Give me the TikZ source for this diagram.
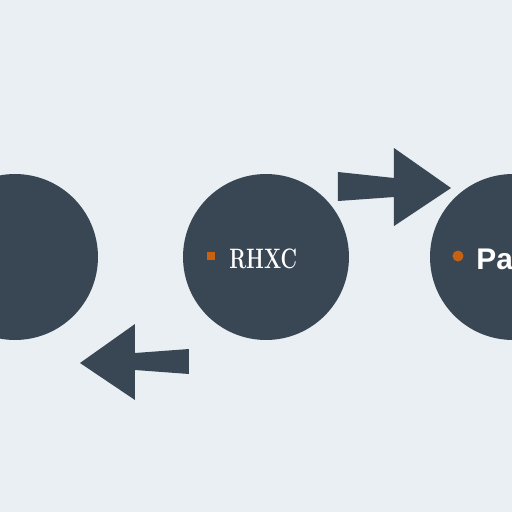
\documentclass[tikz,border=0pt]{standalone}
\usepackage{fontspec}
\newfontfamily\labelsans{Liberation Sans}
\usetikzlibrary{positioning}

\definecolor{bgpale}{RGB}{233,239,242}
\definecolor{slate}{RGB}{57,70,84}
\definecolor{rust}{RGB}{198,98,18}

\begin{document}
\begin{tikzpicture}[
    x=0.02cm, y=-0.02cm,
    ball/.style={circle, fill=slate, minimum size=3.32cm, inner sep=0pt},
    blockarr/.style={fill=slate},
    tag/.style={text=white, inner sep=0pt, anchor=west},
]
    \fill[bgpale] (0,0) rectangle (512,512);
    \useasboundingbox (0,0) rectangle (512,512);
    \clip (0,0) rectangle (512,512);

    \node[ball] (left)  at (15,257)  {};
    \node[ball] (mid)   at (266,257) {};
    \node[ball] (right) at (513,257) {};

    % markers and labels
    \node[fill=rust, minimum size=0.17cm, inner sep=0pt] (dotmid) at (211,256) {};
    \node[tag, font=\bfseries\fontsize{16}{16}\selectfont, xscale=0.72, transform shape]
        (rhxc) at (229,259) {RHXC};
    \node[circle, fill=rust, minimum size=0.22cm, inner sep=0pt] (dotright) at (458,256) {};
    \node[tag, font=\labelsans\bfseries\fontsize{17}{17}\selectfont] (pa) at (476,259) {Pa};

    % block arrows
    \fill[blockarr] (338,172) -- (394,178) -- (394,148) -- (451,188)
        -- (394,226) -- (394,197) -- (338,201) -- cycle;
    \fill[blockarr] (189,349) -- (135,353) -- (135,324) -- (80,363)
        -- (135,400) -- (135,370) -- (189,374) -- cycle;
\end{tikzpicture}
\end{document}
